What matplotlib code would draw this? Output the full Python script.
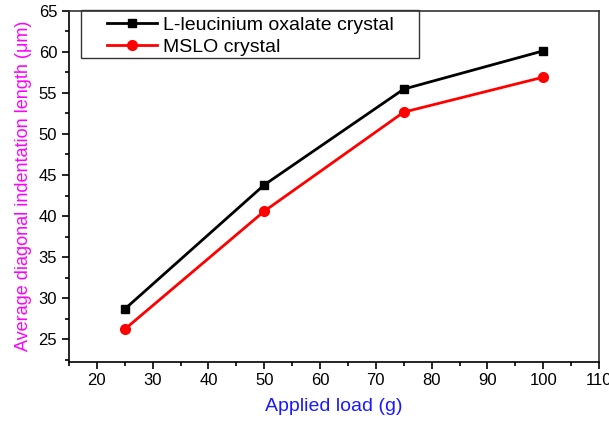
import matplotlib.pyplot as plt
from matplotlib.patches import Rectangle
from matplotlib.ticker import MultipleLocator

plt.rcParams['font.family'] = ['Liberation Sans', 'DejaVu Sans']

# datos
load_g = [25, 50, 75, 100]
leucinium = [28.7, 43.8, 55.45, 60.1]
mslo = [26.25, 40.6, 52.65, 56.9]

fig = plt.figure(figsize=(6.09, 4.21), dpi=100)
ax = fig.add_axes([0.1133, 0.1409, 0.8703, 0.834])

ax.plot(load_g, leucinium, color='black', lw=2, marker='s', ms=6,
        label='L-leucinium oxalate crystal')
ax.plot(load_g, mslo, color='red', lw=2, marker='o', ms=7,
        label='MSLO crystal')

ax.set_xlim(15, 110)
ax.set_ylim(22.3, 65)
ax.xaxis.set_major_locator(MultipleLocator(10))
ax.xaxis.set_minor_locator(MultipleLocator(5))
ax.yaxis.set_major_locator(MultipleLocator(5))
ax.yaxis.set_minor_locator(MultipleLocator(2.5))
ax.tick_params(which='both', direction='out', labelsize=12, width=1.2)
ax.tick_params(which='major', length=5)
ax.tick_params(which='minor', length=3)
for s in ax.spines.values():
    s.set_linewidth(1.2)
ax.spines['top'].set_color('#333333')
ax.spines['right'].set_color('#333333')

ax.set_xlabel('Applied load (g)', color='#1a1aff', fontsize=14, labelpad=7)
ax.set_ylabel('Average diagonal indentation length (\u03bcm)', color='magenta',
              fontsize=13, labelpad=5)

# marco de la leyenda
ax.add_patch(Rectangle((0.0226, 0.865), 0.637, 0.138, transform=ax.transAxes,
                       fill=False, edgecolor='#333333', lw=1, clip_on=False))
ax.legend(loc='upper left', bbox_to_anchor=(0.06, 1.0), frameon=False,
          fontsize=14, handlelength=2.6, handletextpad=0.3, labelspacing=0.2,
          borderaxespad=0, borderpad=0.3)

fig.savefig('out.png')
plt.close()
